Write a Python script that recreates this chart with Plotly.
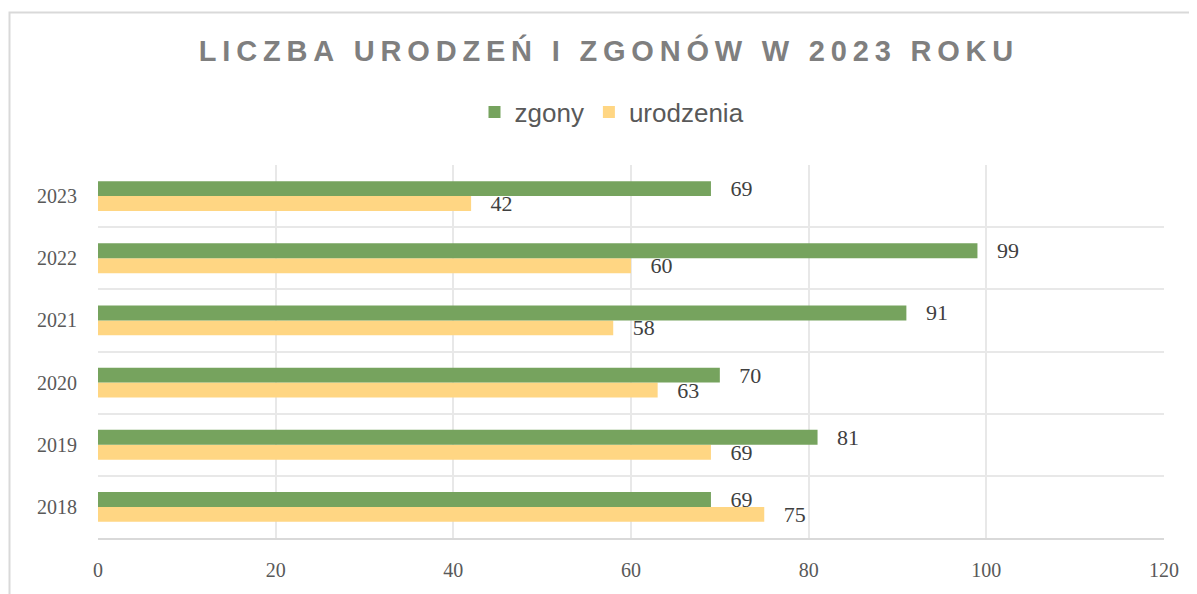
import plotly.graph_objects as go

years = [2018, 2019, 2020, 2021, 2022, 2023]
zgony = [69, 81, 70, 91, 99, 69]
urodzenia = [75, 69, 63, 58, 60, 42]
x_ticks = [0, 20, 40, 60, 80, 100, 120]

title_text = "LICZBA URODZEŃ I ZGONÓW W 2023 ROKU"
spaced_title = "\u2009".join(list(title_text))

GREEN = "#76A35E"
YELLOW = "#FFD683"
SERIF = "Liberation Serif, DejaVu Serif, serif"
SANS = "Liberation Sans, Arial, sans-serif"
NB = "\u00a0"

# page body has an 8px margin; figure is sized/placed accordingly
W, H = 1189, 586
ML, MR, MT, MB = 90, 33, 157, 56
PW, PH = W - ML - MR, H - MT - MB

fig = go.Figure()
fig.add_trace(go.Bar(
    y=years, x=urodzenia, orientation="h", name="urodzenia",
    marker=dict(color=YELLOW, line=dict(width=0)),
    text=[NB * 3 + str(v) for v in urodzenia], textposition="outside",
    constraintext="none", cliponaxis=False,
    textfont=dict(family=SERIF, size=22, color="#404040"),
    legendrank=2,
))
fig.add_trace(go.Bar(
    y=years, x=zgony, orientation="h", name="zgony",
    marker=dict(color=GREEN, line=dict(width=0)),
    text=[NB * 3 + str(v) for v in zgony], textposition="outside",
    constraintext="none", cliponaxis=False,
    textfont=dict(family=SERIF, size=22, color="#404040"),
    legendrank=1,
))

fig.update_layout(
    width=W, height=H,
    paper_bgcolor="white", plot_bgcolor="white",
    margin=dict(l=ML, r=MR, t=MT, b=MB),
    barmode="group", bargap=0.52, bargroupgap=0,
    title=dict(text=spaced_title, x=(606 - 8) / W, xanchor="center", y=1 - 43 / H,
               yanchor="middle", yref="container", automargin=False,
               font=dict(family=SANS, size=29, color="#7F7F7F", weight="bold")),
    legend=dict(orientation="h", x=(604 - ML) / PW, xanchor="center",
                y=(H - MB - 104) / PH, yanchor="middle",
                font=dict(family=SANS, size=26, color="#595959"),
                itemwidth=30, itemsizing="constant", traceorder="normal",
                bgcolor="rgba(0,0,0,0)"),
    showlegend=True,
    xaxis=dict(range=[0, 120], tickvals=x_ticks, showgrid=True, gridcolor="#E8E8E8",
               gridwidth=1.5, zeroline=False, showline=True, linecolor="#D9D9D9",
               linewidth=1.5, ticks="", ticklabelstandoff=13, automargin=False,
               tickfont=dict(family=SERIF, size=20, color="#595959")),
    yaxis=dict(range=[2017.5, 2023.5], tickvals=years, ticktext=[str(y) for y in years],
               showgrid=False, zeroline=False, showline=False, ticks="",
               ticklabelstandoff=20, automargin=False,
               minor=dict(tickvals=[y + 0.5 for y in years] + [2017.5], showgrid=True,
                          gridcolor="#E8E8E8", gridwidth=1.5),
               tickfont=dict(family=SERIF, size=20, color="#595959")),
    shapes=[dict(type="rect", xref="paper", yref="paper",
                 x0=(1.5 - ML) / PW, x1=1.2, y0=-0.5, y1=(H - MB - 4.5) / PH,
                 line=dict(color="#D9D9D9", width=2), layer="below")],
)

fig.write_html("out.html")
